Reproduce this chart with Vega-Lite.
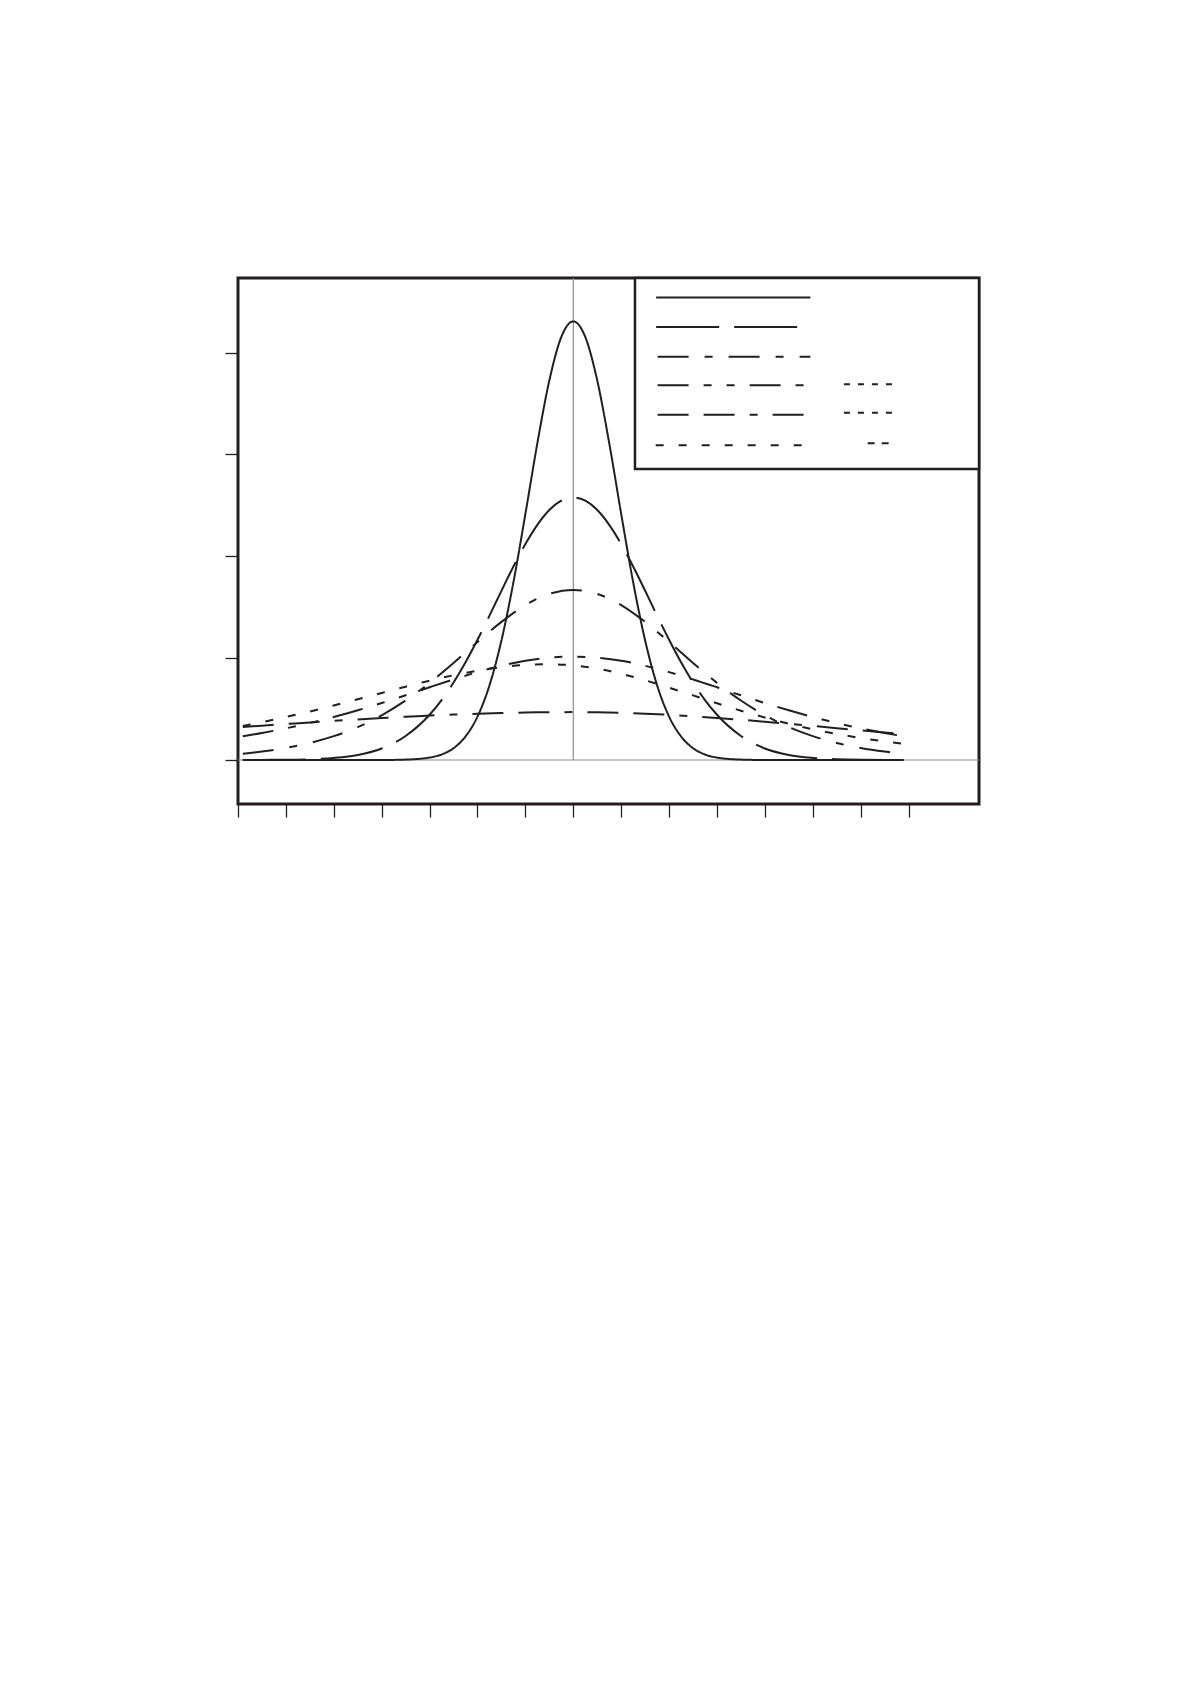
{
  "$schema": "https://vega.github.io/schema/vega-lite/v6.json",
  "width": 741,
  "height": 526,
  "autosize": "none",
  "padding": {"left": 238, "top": 278, "right": 30, "bottom": 40},
  "background": "white",
  "datasets": {
    "curves": [
      {"s": "c1", "x": -6.9, "y": 0}, {"s": "c1", "x": -6.5, "y": 0}, {"s": "c1", "x": -6, "y": 0},
      {"s": "c1", "x": -5.5, "y": 0}, {"s": "c1", "x": -5, "y": 0}, {"s": "c1", "x": -4.5, "y": 0},
      {"s": "c1", "x": -4, "y": 0}, {"s": "c1", "x": -3.5, "y": 0.0004}, {"s": "c1", "x": -3, "y": 0.0024},
      {"s": "c1", "x": -2.75, "y": 0.0054}, {"s": "c1", "x": -2.5, "y": 0.0116}, {"s": "c1", "x": -2.25, "y": 0.0231},
      {"s": "c1", "x": -2, "y": 0.0426}, {"s": "c1", "x": -1.75, "y": 0.0733}, {"s": "c1", "x": -1.5, "y": 0.1173},
      {"s": "c1", "x": -1.25, "y": 0.1745}, {"s": "c1", "x": -1, "y": 0.2416}, {"s": "c1", "x": -0.75, "y": 0.3111},
      {"s": "c1", "x": -0.5, "y": 0.3726}, {"s": "c1", "x": -0.25, "y": 0.4153}, {"s": "c1", "x": 0, "y": 0.4306},
      {"s": "c1", "x": 0.25, "y": 0.4153}, {"s": "c1", "x": 0.5, "y": 0.3726}, {"s": "c1", "x": 0.75, "y": 0.3111},
      {"s": "c1", "x": 1, "y": 0.2416}, {"s": "c1", "x": 1.25, "y": 0.1745}, {"s": "c1", "x": 1.5, "y": 0.1173},
      {"s": "c1", "x": 1.75, "y": 0.0733}, {"s": "c1", "x": 2, "y": 0.0426}, {"s": "c1", "x": 2.25, "y": 0.0231},
      {"s": "c1", "x": 2.5, "y": 0.0116}, {"s": "c1", "x": 2.75, "y": 0.0054}, {"s": "c1", "x": 3, "y": 0.0024},
      {"s": "c1", "x": 3.5, "y": 0.0004}, {"s": "c1", "x": 4, "y": 0}, {"s": "c1", "x": 4.5, "y": 0},
      {"s": "c1", "x": 5, "y": 0}, {"s": "c1", "x": 5.5, "y": 0}, {"s": "c1", "x": 6, "y": 0},
      {"s": "c1", "x": 6.5, "y": 0}, {"s": "c1", "x": 6.9, "y": 0},

      {"s": "c2", "x": -6.9, "y": 0}, {"s": "c2", "x": -6.5, "y": 0.0001}, {"s": "c2", "x": -6, "y": 0.0002},
      {"s": "c2", "x": -5.5, "y": 0.0007}, {"s": "c2", "x": -5, "y": 0.002}, {"s": "c2", "x": -4.5, "y": 0.0049},
      {"s": "c2", "x": -4, "y": 0.0113}, {"s": "c2", "x": -3.5, "y": 0.0236}, {"s": "c2", "x": -3, "y": 0.0444},
      {"s": "c2", "x": -2.75, "y": 0.0588}, {"s": "c2", "x": -2.5, "y": 0.076}, {"s": "c2", "x": -2.25, "y": 0.0959},
      {"s": "c2", "x": -2, "y": 0.118}, {"s": "c2", "x": -1.75, "y": 0.1417}, {"s": "c2", "x": -1.5, "y": 0.1661},
      {"s": "c2", "x": -1.25, "y": 0.1899}, {"s": "c2", "x": -1, "y": 0.212}, {"s": "c2", "x": -0.75, "y": 0.2309},
      {"s": "c2", "x": -0.5, "y": 0.2454}, {"s": "c2", "x": -0.25, "y": 0.2546}, {"s": "c2", "x": 0, "y": 0.2577},
      {"s": "c2", "x": 0.25, "y": 0.2546}, {"s": "c2", "x": 0.5, "y": 0.2454}, {"s": "c2", "x": 0.75, "y": 0.2309},
      {"s": "c2", "x": 1, "y": 0.212}, {"s": "c2", "x": 1.25, "y": 0.1899}, {"s": "c2", "x": 1.5, "y": 0.1661},
      {"s": "c2", "x": 1.75, "y": 0.1417}, {"s": "c2", "x": 2, "y": 0.118}, {"s": "c2", "x": 2.25, "y": 0.0959},
      {"s": "c2", "x": 2.5, "y": 0.076}, {"s": "c2", "x": 2.75, "y": 0.0588}, {"s": "c2", "x": 3, "y": 0.0444},
      {"s": "c2", "x": 3.5, "y": 0.0236}, {"s": "c2", "x": 4, "y": 0.0113}, {"s": "c2", "x": 4.5, "y": 0.0049},
      {"s": "c2", "x": 5, "y": 0.002}, {"s": "c2", "x": 5.5, "y": 0.0007}, {"s": "c2", "x": 6, "y": 0.0002},
      {"s": "c2", "x": 6.5, "y": 0.0001}, {"s": "c2", "x": 6.9, "y": 0},

      {"s": "c3", "x": -6.9, "y": 0.0062}, {"s": "c3", "x": -6.5, "y": 0.0083}, {"s": "c3", "x": -6, "y": 0.0118},
      {"s": "c3", "x": -5.5, "y": 0.0167}, {"s": "c3", "x": -5, "y": 0.0234}, {"s": "c3", "x": -4.5, "y": 0.0323},
      {"s": "c3", "x": -4, "y": 0.0439}, {"s": "c3", "x": -3.5, "y": 0.0584}, {"s": "c3", "x": -3, "y": 0.0757},
      {"s": "c3", "x": -2.5, "y": 0.0953}, {"s": "c3", "x": -2, "y": 0.1159}, {"s": "c3", "x": -1.5, "y": 0.1356},
      {"s": "c3", "x": -1, "y": 0.1521}, {"s": "c3", "x": -0.5, "y": 0.1631}, {"s": "c3", "x": 0, "y": 0.167},
      {"s": "c3", "x": 0.5, "y": 0.1631}, {"s": "c3", "x": 1, "y": 0.1521}, {"s": "c3", "x": 1.5, "y": 0.1356},
      {"s": "c3", "x": 2, "y": 0.1159}, {"s": "c3", "x": 2.5, "y": 0.0953}, {"s": "c3", "x": 3, "y": 0.0757},
      {"s": "c3", "x": 3.5, "y": 0.0584}, {"s": "c3", "x": 4, "y": 0.0439}, {"s": "c3", "x": 4.5, "y": 0.0323},
      {"s": "c3", "x": 5, "y": 0.0234}, {"s": "c3", "x": 5.5, "y": 0.0167}, {"s": "c3", "x": 6, "y": 0.0118},
      {"s": "c3", "x": 6.5, "y": 0.0083}, {"s": "c3", "x": 6.9, "y": 0.0062},

      {"s": "c4", "x": -6.9, "y": 0.0233}, {"s": "c4", "x": -6.5, "y": 0.0265}, {"s": "c4", "x": -6, "y": 0.0311},
      {"s": "c4", "x": -5.5, "y": 0.0363}, {"s": "c4", "x": -5, "y": 0.0422}, {"s": "c4", "x": -4.5, "y": 0.0488},
      {"s": "c4", "x": -4, "y": 0.0559}, {"s": "c4", "x": -3.5, "y": 0.0635}, {"s": "c4", "x": -3, "y": 0.0714},
      {"s": "c4", "x": -2.5, "y": 0.0791}, {"s": "c4", "x": -2, "y": 0.0863}, {"s": "c4", "x": -1.5, "y": 0.0925},
      {"s": "c4", "x": -1, "y": 0.0974}, {"s": "c4", "x": -0.5, "y": 0.1004}, {"s": "c4", "x": 0, "y": 0.1015},
      {"s": "c4", "x": 0.5, "y": 0.1004}, {"s": "c4", "x": 1, "y": 0.0974}, {"s": "c4", "x": 1.5, "y": 0.0925},
      {"s": "c4", "x": 2, "y": 0.0863}, {"s": "c4", "x": 2.5, "y": 0.0791}, {"s": "c4", "x": 3, "y": 0.0714},
      {"s": "c4", "x": 3.5, "y": 0.0635}, {"s": "c4", "x": 4, "y": 0.0559}, {"s": "c4", "x": 4.5, "y": 0.0488},
      {"s": "c4", "x": 5, "y": 0.0422}, {"s": "c4", "x": 5.5, "y": 0.0363}, {"s": "c4", "x": 6, "y": 0.0311},
      {"s": "c4", "x": 6.5, "y": 0.0265}, {"s": "c4", "x": 6.9, "y": 0.0233},

      {"s": "c5", "x": -6.9, "y": 0.0334}, {"s": "c5", "x": -6.5, "y": 0.0371}, {"s": "c5", "x": -6, "y": 0.0422},
      {"s": "c5", "x": -5.5, "y": 0.0476}, {"s": "c5", "x": -5, "y": 0.0535}, {"s": "c5", "x": -4.5, "y": 0.0596},
      {"s": "c5", "x": -4, "y": 0.0658}, {"s": "c5", "x": -3.5, "y": 0.072}, {"s": "c5", "x": -3, "y": 0.0779},
      {"s": "c5", "x": -2.5, "y": 0.0832}, {"s": "c5", "x": -2, "y": 0.0877}, {"s": "c5", "x": -1.5, "y": 0.0911},
      {"s": "c5", "x": -1, "y": 0.0933}, {"s": "c5", "x": -0.5, "y": 0.094}, {"s": "c5", "x": 0, "y": 0.0929},
      {"s": "c5", "x": 0.5, "y": 0.0897}, {"s": "c5", "x": 1, "y": 0.0847}, {"s": "c5", "x": 1.5, "y": 0.0783},
      {"s": "c5", "x": 2, "y": 0.071}, {"s": "c5", "x": 2.5, "y": 0.0634}, {"s": "c5", "x": 3, "y": 0.0557},
      {"s": "c5", "x": 3.5, "y": 0.0484}, {"s": "c5", "x": 4, "y": 0.0417}, {"s": "c5", "x": 4.5, "y": 0.0356},
      {"s": "c5", "x": 5, "y": 0.0302}, {"s": "c5", "x": 5.5, "y": 0.0256}, {"s": "c5", "x": 6, "y": 0.0216},
      {"s": "c5", "x": 6.5, "y": 0.0182}, {"s": "c5", "x": 6.9, "y": 0.0158},

      {"s": "c6", "x": -6.9, "y": 0.0324}, {"s": "c6", "x": -6.5, "y": 0.0337}, {"s": "c6", "x": -6, "y": 0.0353},
      {"s": "c6", "x": -5.5, "y": 0.0369}, {"s": "c6", "x": -5, "y": 0.0384}, {"s": "c6", "x": -4.5, "y": 0.0398},
      {"s": "c6", "x": -4, "y": 0.0412}, {"s": "c6", "x": -3.5, "y": 0.0425}, {"s": "c6", "x": -3, "y": 0.0436},
      {"s": "c6", "x": -2.5, "y": 0.0446}, {"s": "c6", "x": -2, "y": 0.0454}, {"s": "c6", "x": -1.5, "y": 0.0461},
      {"s": "c6", "x": -1, "y": 0.0466}, {"s": "c6", "x": -0.5, "y": 0.0469}, {"s": "c6", "x": 0, "y": 0.047},
      {"s": "c6", "x": 0.5, "y": 0.0468}, {"s": "c6", "x": 1, "y": 0.0463}, {"s": "c6", "x": 1.5, "y": 0.0455},
      {"s": "c6", "x": 2, "y": 0.0443}, {"s": "c6", "x": 2.5, "y": 0.0429}, {"s": "c6", "x": 3, "y": 0.0413},
      {"s": "c6", "x": 3.5, "y": 0.0395}, {"s": "c6", "x": 4, "y": 0.0375}, {"s": "c6", "x": 4.5, "y": 0.0355},
      {"s": "c6", "x": 5, "y": 0.0334}, {"s": "c6", "x": 5.5, "y": 0.0312}, {"s": "c6", "x": 6, "y": 0.0291},
      {"s": "c6", "x": 6.5, "y": 0.027}, {"s": "c6", "x": 6.9, "y": 0.0254}
    ],
    "key": [
      {"s": "c1", "x": 1.73, "x2": 4.95, "y": 0.454},
      {"s": "c2", "x": 1.73, "x2": 4.95, "y": 0.425},
      {"s": "c3", "x": 1.76, "x2": 4.95, "y": 0.396},
      {"s": "c4", "x": 1.76, "x2": 4.95, "y": 0.368},
      {"s": "c6", "x": 1.76, "x2": 4.95, "y": 0.339},
      {"s": "c5", "x": 1.72, "x2": 4.95, "y": 0.309},
      {"s": "d4", "x": 5.65, "x2": 6.653, "y": 0.369},
      {"s": "d5", "x": 5.65, "x2": 6.653, "y": 0.341},
      {"s": "d6", "x": 6.146, "x2": 6.591, "y": 0.311}
    ],
    "refs": [{"k": "zero"}]
  },
  "layer": [
    {
      "data": {"name": "refs"},
      "mark": {"type": "rule", "color": "#8c8c8c", "strokeWidth": 1.2},
      "encoding": {
        "y": {"datum": 0, "type": "quantitative", "scale": {"domain": [-0.0432, 0.4732], "nice": false, "zero": false}}
      }
    },
    {
      "data": {"name": "refs"},
      "mark": {"type": "rule", "color": "#8c8c8c", "strokeWidth": 1.2},
      "encoding": {
        "x": {"datum": 0, "type": "quantitative", "scale": {"domain": [-7, 8.47], "nice": false, "zero": false}},
        "y": {"datum": 0, "type": "quantitative"},
        "y2": {"datum": 0.4732}
      }
    },
    {
      "data": {"name": "curves"},
      "mark": {"type": "line", "color": "#231f20", "strokeWidth": 2, "interpolate": "monotone"},
      "encoding": {
        "x": {
          "field": "x",
          "type": "quantitative",
          "title": null,
          "scale": {"domain": [-7, 8.47], "nice": false, "zero": false},
          "axis": {
            "values": [-7, -6, -5, -4, -3, -2, -1, 0, 1, 2, 3, 4, 5, 6, 7],
            "labels": false, "domain": false, "grid": false,
            "tickSize": 13, "tickWidth": 1.3, "tickColor": "#231f20"
          }
        },
        "y": {
          "field": "y",
          "type": "quantitative",
          "title": null,
          "scale": {"domain": [-0.0432, 0.4732], "nice": false, "zero": false},
          "axis": {
            "values": [0, 0.1, 0.2, 0.3, 0.4],
            "labels": false, "domain": false, "grid": false,
            "tickSize": 13, "tickWidth": 1.3, "tickColor": "#231f20"
          }
        },
        "detail": {"field": "s"},
        "strokeDash": {
          "field": "s",
          "type": "nominal",
          "legend": null,
          "scale": {
            "domain": ["c1", "c2", "c3", "c4", "c5", "c6", "d4", "d5", "d6"],
            "range": [[1, 0], [63, 15], [31, 16, 8, 16], [31, 15, 8, 15, 8, 15], [8, 15], [31, 15, 31, 15, 8, 15], [6, 8], [6, 8], [7, 7]]
          }
        }
      }
    },
    {
      "data": {"name": "refs"},
      "mark": {"type": "rect", "fill": "white", "stroke": "#231f20", "strokeWidth": 2.5},
      "encoding": {
        "x": {"datum": 1.288, "type": "quantitative"},
        "x2": {"datum": 8.47},
        "y": {"datum": 0.2857, "type": "quantitative"},
        "y2": {"datum": 0.4732}
      }
    },
    {
      "data": {"name": "key"},
      "mark": {"type": "rule", "color": "#231f20", "strokeWidth": 2},
      "encoding": {
        "x": {"field": "x", "type": "quantitative", "title": null},
        "x2": {"field": "x2"},
        "y": {"field": "y", "type": "quantitative", "title": null},
        "strokeDash": {"field": "s", "type": "nominal", "legend": null}
      }
    }
  ],
  "config": {
    "view": {"stroke": "#231f20", "strokeWidth": 3}
  }
}
